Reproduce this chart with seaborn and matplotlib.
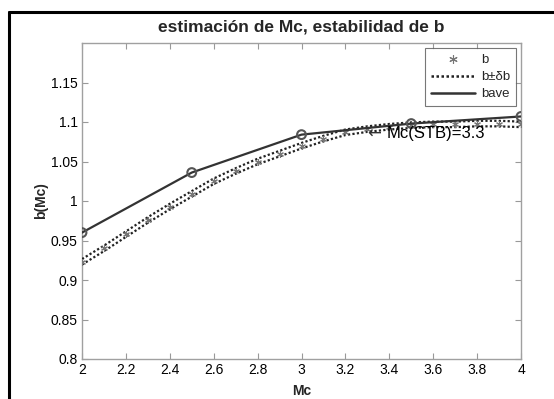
import numpy as np
import pandas as pd
import matplotlib
matplotlib.use("Agg")
import matplotlib.pyplot as plt
import seaborn as sns
from matplotlib.lines import Line2D

# ---- data ----
mc = [2.0, 2.1, 2.2, 2.3, 2.4, 2.5, 2.6, 2.7, 2.8, 2.9, 3.0,
      3.1, 3.2, 3.3, 3.4, 3.5, 3.6, 3.7, 3.8, 3.9, 4.0]
b = [0.923, 0.940, 0.958, 0.976, 0.993, 1.009, 1.025, 1.038, 1.050, 1.060, 1.070,
     1.079, 1.087, 1.091, 1.094, 1.096, 1.097, 1.097, 1.098, 1.098, 1.097]
db = [0.0035, 0.0035, 0.0035, 0.0035, 0.0035, 0.0035, 0.0035, 0.0035, 0.0035, 0.0035, 0.0035,
      0.0035, 0.0035, 0.0035, 0.0035, 0.0035, 0.0035, 0.0035, 0.0035, 0.0035, 0.0035]
mc_ave = [2.0, 2.5, 3.0, 3.5, 4.0]
bave = [0.960, 1.036, 1.084, 1.098, 1.107]
mc_stb = 3.3
title = "estimación de Mc, estabilidad de b"
xticks = [2, 2.2, 2.4, 2.6, 2.8, 3, 3.2, 3.4, 3.6, 3.8, 4]
xticklabels = ["2", "2.2", "2.4", "2.6", "2.8", "3", "3.2", "3.4", "3.6", "3.8", "4"]
yticks = [0.8, 0.85, 0.9, 0.95, 1.0, 1.05, 1.1, 1.15]
yticklabels = ["0.8", "0.85", "0.9", "0.95", "1", "1.05", "1.1", "1.15"]

sns.set_style("white")
plt.rcParams['font.family'] = ['Liberation Sans', 'DejaVu Sans']

df = pd.DataFrame({"Mc": mc, "b": b,
                   "up": np.array(b) + np.array(db),
                   "lo": np.array(b) - np.array(db)})
dfa = pd.DataFrame({"Mc": mc_ave, "bave": bave})

fig = plt.figure(figsize=(5.54, 3.99), dpi=100)
ax = fig.add_axes([82/554, 40/399, 439/554, 316/399])

sns.lineplot(data=df, x="Mc", y="up", ax=ax, color="#222222", lw=1.6,
             linestyle=(0, (1, 1)), zorder=3)
sns.lineplot(data=df, x="Mc", y="lo", ax=ax, color="#222222", lw=1.6,
             linestyle=(0, (1, 1)), zorder=3)
sns.scatterplot(data=df, x="Mc", y="b", ax=ax, marker=(6, 2, 0), s=18,
                color="#777777", linewidth=0.8, zorder=4)
sns.lineplot(data=dfa, x="Mc", y="bave", ax=ax, color="#333333", lw=1.6, zorder=5)
sns.scatterplot(data=dfa, x="Mc", y="bave", ax=ax, marker="o", s=40,
                facecolor="none", edgecolor="#555555", linewidth=1.5, zorder=6)

ax.text(mc_stb, 1.085, "\u2190", fontsize=12, family=['DejaVu Sans'],
        ha="left", va="center", color="#333333", zorder=7)
ax.text(mc_stb + 0.09, 1.086, "Mc(STB)=3.3", fontsize=12,
        ha="left", va="center", color="black", zorder=7)

ax.set_xlim(2, 4)
ax.set_ylim(0.8, 1.2)
ax.set_xticks(xticks)
ax.set_xticklabels(xticklabels)
ax.set_yticks(yticks)
ax.set_yticklabels(yticklabels)
ax.tick_params(direction="in", length=4, width=0.8, colors="#999999",
               labelcolor="black", labelsize=10, top=True, right=True,
               bottom=True, left=True, pad=3)
for s in ax.spines.values():
    s.set_color("#a0a0a0")
    s.set_linewidth(1.0)
    s.set_visible(True)

ax.set_xlabel("Mc", fontsize=10, fontweight="bold", labelpad=5)
ax.set_ylabel("b(Mc)", fontsize=10, fontweight="bold", labelpad=2)
ax.set_title(title, fontsize=12.5, fontweight="bold", pad=8)

handles = [
    Line2D([], [], marker=(6, 2, 0), color="#777777", linestyle="none",
           markersize=6, markeredgewidth=0.8),
    Line2D([], [], color="#222222", lw=1.8, linestyle=(0, (1, 1))),
    Line2D([], [], color="#333333", lw=1.8),
]
leg = ax.legend(handles, ["b", "b\u00b1\u03b4b", "bave"], loc="upper right",
                bbox_to_anchor=(1.0, 1.0), fontsize=9.5, frameon=True,
                fancybox=False, handlelength=3.4, handletextpad=0.4,
                borderpad=0.45, labelspacing=0.35, borderaxespad=0.4)
leg.get_frame().set_edgecolor("#555555")
leg.get_frame().set_linewidth(0.8)

# figure border (black frame)
fig.add_artist(Line2D([9/554, 1.0], [1 - 12/399, 1 - 12/399],
                      transform=fig.transFigure, color="black", lw=2.2))
fig.add_artist(Line2D([9/554, 9/554], [0.0, 1 - 12/399],
                      transform=fig.transFigure, color="black", lw=2.2))

fig.savefig("out.png", dpi=100)
